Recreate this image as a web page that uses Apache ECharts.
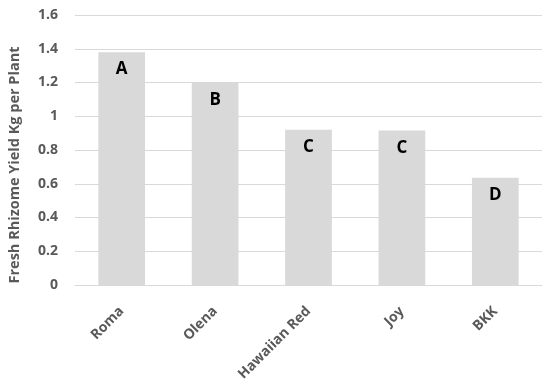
<!DOCTYPE html>
<html><head><meta charset="utf-8">
<script src="https://cdn.jsdelivr.net/npm/echarts@6/dist/echarts.min.js"></script>
<style>html,body{margin:0;padding:0;background:#fff}#c{width:550px;height:386px}</style>
</head><body><div id="c"></div>
<script>
const categories = ["Roma", "Olena", "Hawaiian Red", "Joy", "BKK"];
const yieldValues = [1.38, 1.2, 0.92, 0.915, 0.635];
const letters = ["A", "B", "C", "C", "D"];
const yTicks = [0, 0.2, 0.4, 0.6, 0.8, 1, 1.2, 1.4, 1.6];

const chart = echarts.init(document.getElementById('c'), null, {renderer: 'canvas'});
chart.setOption({
  animation: false,
  grid: {left: 75, right: 8, top: 15, bottom: 101, outerBoundsMode: 'none', containLabel: false},
  xAxis: {
    type: 'category', data: categories,
    axisLine: {lineStyle: {color: '#d9d9d9', width: 1}},
    axisTick: {show: false},
    axisLabel: {rotate: 45, color: '#595959', fontFamily: 'Open Sans', fontWeight: 'bold', fontSize: 14, margin: 24, interval: 0}
  },
  yAxis: {
    type: 'value', min: 0, max: 1.6, interval: 0.2,
    name: 'Fresh Rhizome Yield Kg per Plant', nameLocation: 'middle', nameGap: 53, nameRotate: 90,
    nameTextStyle: {color: '#595959', fontFamily: 'Open Sans', fontWeight: 'bold', fontSize: 14.5, padding: [0, 30, 0, 0]},
    axisLine: {show: false}, axisTick: {show: false},
    splitLine: {lineStyle: {color: '#d9d9d9', width: 1}},
    axisLabel: {color: '#595959', fontFamily: 'Open Sans', fontWeight: 'bold', fontSize: 14, margin: 17,
      formatter: v => { const t = yTicks.find(x => Math.abs(x - v) < 1e-9); return t === undefined ? '' : String(t); }}
  },
  series: [{
    type: 'bar', data: yieldValues.map((v, i) => ({value: v, label: {formatter: letters[i]}})),
    barWidth: '50%',
    itemStyle: {color: '#d9d9d9'},
    label: {show: true, position: 'insideTop', distance: 9, color: '#000', fontFamily: 'Open Sans', fontWeight: 'bold', fontSize: 17}
  }]
});
</script></body></html>
